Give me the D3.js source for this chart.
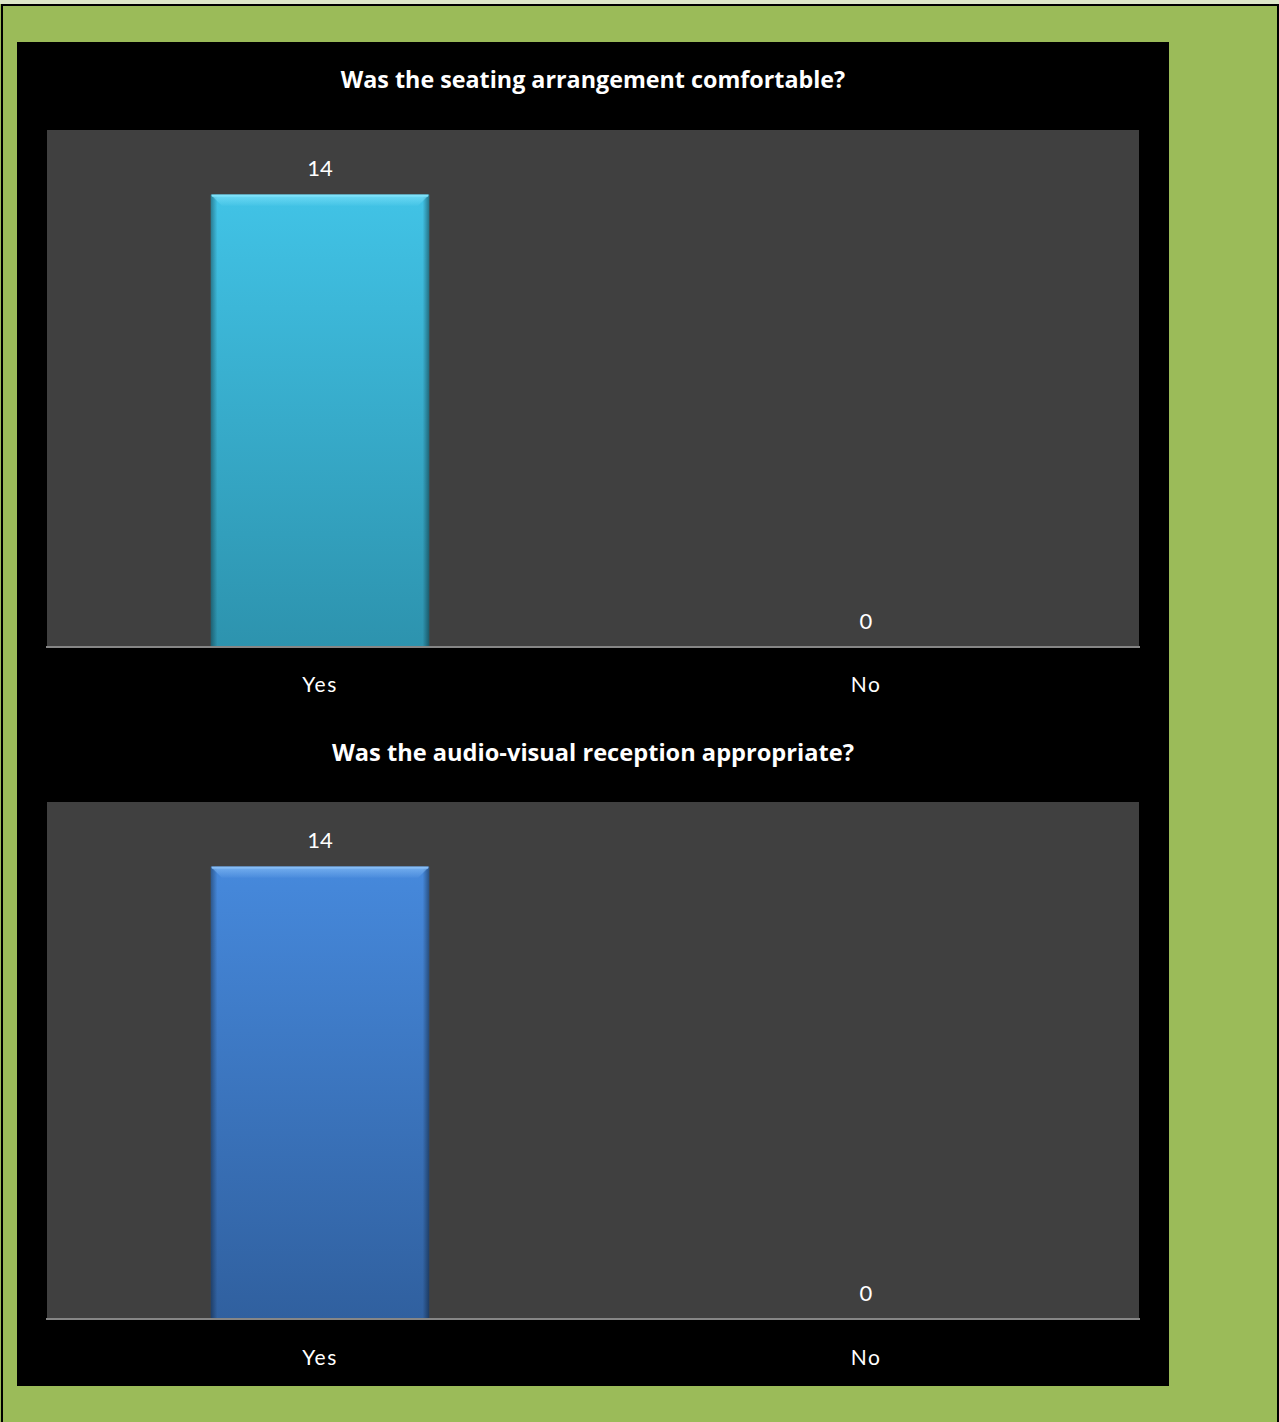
<!DOCTYPE html>
<html><head><meta charset="utf-8">
<script src="https://cdn.jsdelivr.net/npm/d3@7"></script>
<style>html,body{margin:0;padding:0;background:#9bbb59;}svg{display:block;}</style>
</head><body>
<svg id="c" width="1279" height="1422"></svg>
<script>
const categories = ["Yes", "No"];
const titles = ["Was the seating arrangement comfortable?", "Was the audio-visual reception appropriate?"];
const seatingValues = [14, 0];
const audioValues = [14, 0];
const yMax = 16;

const svg = d3.select("#c");
svg.append("rect").attr("x",0).attr("y",0).attr("width",1279).attr("height",1422).attr("fill","#9bbb59");
svg.append("rect").attr("x",0).attr("y",0).attr("width",1279).attr("height",4).attr("fill","#dde6c8");
svg.append("rect").attr("x",1).attr("y",4).attr("width",1277).attr("height",2).attr("fill","#000");
svg.append("rect").attr("x",1).attr("y",4).attr("width",2).attr("height",1418).attr("fill","#000");
svg.append("rect").attr("x",1277).attr("y",4).attr("width",2).attr("height",1418).attr("fill","#000");
svg.append("rect").attr("x",17).attr("y",42).attr("width",1152).attr("height",1344).attr("fill","#000");

const defs = svg.append("defs");
const palettes = [
  {id:"g0", top:"#41c3e6", bottom:"#2d93ae", hi:"#7fe2fa"},
  {id:"g1", top:"#4689dc", bottom:"#30609f", hi:"#86bdf6"}
];
palettes.forEach(p=>{
  const g = defs.append("linearGradient").attr("id",p.id).attr("x1",0).attr("y1",0).attr("x2",0).attr("y2",1);
  g.append("stop").attr("offset","0%").attr("stop-color",p.top);
  g.append("stop").attr("offset","100%").attr("stop-color",p.bottom);
  const h = defs.append("linearGradient").attr("id",p.id+"h").attr("x1",0).attr("y1",0).attr("x2",0).attr("y2",1);
  h.append("stop").attr("offset","0%").attr("stop-color",p.hi).attr("stop-opacity",1);
  h.append("stop").attr("offset","100%").attr("stop-color",p.hi).attr("stop-opacity",0.1);
});
const side = defs.append("linearGradient").attr("id","side").attr("x1",0).attr("y1",0).attr("x2",1).attr("y2",0);
side.append("stop").attr("offset","0%").attr("stop-color","#000").attr("stop-opacity",0.35);
side.append("stop").attr("offset","3%").attr("stop-color","#000").attr("stop-opacity",0.0);
side.append("stop").attr("offset","97%").attr("stop-color","#000").attr("stop-opacity",0.0);
side.append("stop").attr("offset","100%").attr("stop-color","#000").attr("stop-opacity",0.4);

const charts = [
  {title: titles[0], values: seatingValues, titleY: 79, top: 130, bottom: 647, labelY: 683, pal: palettes[0], tw: 505},
  {title: titles[1], values: audioValues, titleY: 752, top: 802, bottom: 1319, labelY: 1356, pal: palettes[1], tw: 522}
];
const font = "Lato, 'Open Sans', sans-serif";
const titleFont = "'Open Sans', Lato, sans-serif";

charts.forEach(ch=>{
  const g = svg.append("g");
  const x = d3.scaleBand().domain(categories).range([47,1139]).paddingInner(0.6).paddingOuter(0.3);
  const y = d3.scaleLinear().domain([0,yMax]).range([ch.bottom, ch.top]);
  g.append("rect").attr("x",47).attr("y",ch.top).attr("width",1092).attr("height",ch.bottom-ch.top).attr("fill","#404040");
  const t = g.append("text").attr("x",593).attr("y",ch.titleY).attr("text-anchor","middle").attr("dominant-baseline","central")
    .attr("fill","#fff").attr("font-family",titleFont).attr("font-weight","bold").attr("font-size",22)
    .text(ch.title);
  const w = t.node().getComputedTextLength();
  if (w > 0) t.attr("font-size", Math.min(26, 22 * ch.tw / w));
  const data = categories.map((c,i)=>({c, v: ch.values[i]}));
  data.forEach(d=>{
    if (d.v <= 0) return;
    const bx = x(d.c), bw = x.bandwidth(), by = y(d.v), bh = y(0)-y(d.v);
    g.append("rect").attr("x",bx).attr("y",by).attr("width",bw).attr("height",bh).attr("fill",`url(#${ch.pal.id})`);
    g.append("rect").attr("x",bx).attr("y",by).attr("width",bw).attr("height",bh).attr("fill","url(#side)");
    g.append("polygon").attr("points",[[bx,by],[bx+bw,by],[bx+bw-11,by+11],[bx+11,by+11]].map(p=>p.join(",")).join(" "))
      .attr("fill",`url(#${ch.pal.id}h)`).attr("opacity",0.75);
    g.append("rect").attr("x",bx+1).attr("y",by).attr("width",bw-2).attr("height",2).attr("fill",ch.pal.hi);
  });
  g.selectAll(".vl").data(data).join("text")
    .attr("x",d=>x(d.c)+x.bandwidth()/2).attr("y",d=>y(d.v)-27).attr("text-anchor","middle").attr("dominant-baseline","central")
    .attr("fill","#fff").attr("font-family",font).attr("font-size",22).text(d=>d.v);
  const ax = g.append("g").attr("transform",`translate(0,${ch.bottom})`).call(d3.axisBottom(x).tickSize(0).tickPadding(0));
  ax.select(".domain").attr("stroke","#868686").attr("stroke-width",2).attr("d","M46,0H1140");
  ax.selectAll("text").attr("y", ch.labelY-ch.bottom).attr("dy",null).attr("dominant-baseline","central")
    .attr("fill","#fff").attr("font-family",font).attr("font-size",21).attr("letter-spacing","1.5");
});
</script>
</body></html>
